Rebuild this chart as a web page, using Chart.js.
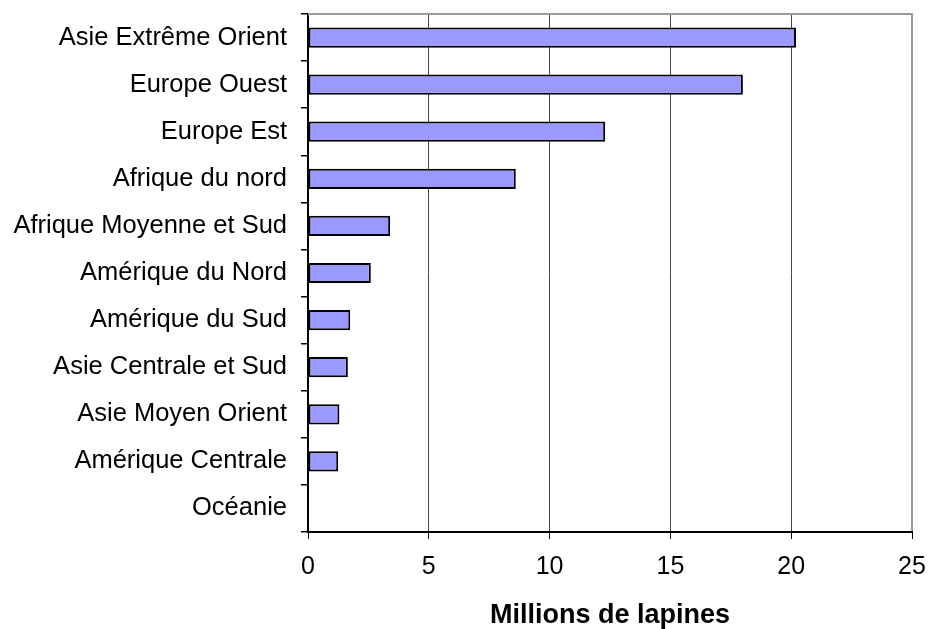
<!DOCTYPE html>
<html>
<head>
<meta charset="utf-8">
<script src="https://cdn.jsdelivr.net/npm/chart.js@4"></script>
<style>
  html, body { margin: 0; padding: 0; background: #fff; }
  #wrap { width: 929px; height: 629px; }
</style>
</head>
<body>
<div id="wrap"><canvas id="c" width="929" height="629"></canvas></div>
<script>
const categories = [
  "Asie Extrême Orient",
  "Europe Ouest",
  "Europe Est",
  "Afrique du nord",
  "Afrique Moyenne et Sud",
  "Amérique du Nord",
  "Amérique du Sud",
  "Asie Centrale et Sud",
  "Asie Moyen Orient",
  "Amérique Centrale",
  "Océanie"
];
const values = [20.2, 18.0, 12.3, 8.6, 3.4, 2.6, 1.75, 1.65, 1.3, 1.25, 0];
const axisTitle = "Millions de lapines";
const xMin = 0, xMax = 25, xStep = 5;

const frame = {
  id: 'frame',
  afterDraw(chart) {
    const {ctx, chartArea: a} = chart;
    ctx.save();
    ctx.strokeStyle = '#9a9a9a';
    ctx.lineWidth = 2;
    ctx.beginPath();
    ctx.moveTo(a.left, a.top);
    ctx.lineTo(a.right, a.top);
    ctx.lineTo(a.right, a.bottom - 1);
    ctx.stroke();
    ctx.restore();
  }
};

new Chart(document.getElementById('c'), {
  type: 'bar',
  data: {
    labels: categories,
    datasets: [{
      data: values,
      backgroundColor: '#9999FF',
      borderColor: '#000000',
      borderWidth: 2,
      borderSkipped: false,
      categoryPercentage: 1,
      barPercentage: 0.43
    }]
  },
  options: {
    indexAxis: 'y',
    responsive: false,
    animation: false,
    devicePixelRatio: 1,
    layout: { padding: { top: 14, right: 17, left: 0, bottom: 0 } },
    plugins: { legend: { display: false }, tooltip: { enabled: false } },
    scales: {
      x: {
        min: xMin, max: xMax,
        afterFit(s) { s.height = 97; s.paddingLeft = 0; s.paddingRight = 0; },
        ticks: {
          stepSize: xStep,
          color: '#000',
          padding: 13,
          font: { family: "'Liberation Sans', Arial, sans-serif", size: 25 }
        },
        grid: {
          color: (ctx) => (ctx.tick && (ctx.tick.value === xMax || ctx.tick.value === xMin)) ? 'rgba(0,0,0,0)' : '#444444',
          lineWidth: 1,
          tickColor: '#000',
          tickLength: 7,
          drawTicks: true
        },
        border: { color: '#000', width: 2 },
        title: {
          display: true,
          text: axisTitle,
          color: '#000',
          padding: { top: 0, bottom: 0 },
          font: { family: "'Liberation Sans', Arial, sans-serif", size: 27, weight: 'bold', lineHeight: 1 }
        }
      },
      y: {
        afterFit(s) { s.width = 308; s.paddingTop = 0; s.paddingBottom = 0; },
        ticks: {
          color: '#000',
          padding: 14,
          autoSkip: false,
          font: { family: "'Liberation Sans', Arial, sans-serif", size: 25.5 }
        },
        grid: {
          drawOnChartArea: false,
          drawTicks: true,
          tickLength: 7,
          tickColor: '#000',
          lineWidth: 1.5
        },
        border: { color: '#000', width: 2 }
      }
    }
  },
  plugins: [frame]
});
</script>
</body>
</html>
